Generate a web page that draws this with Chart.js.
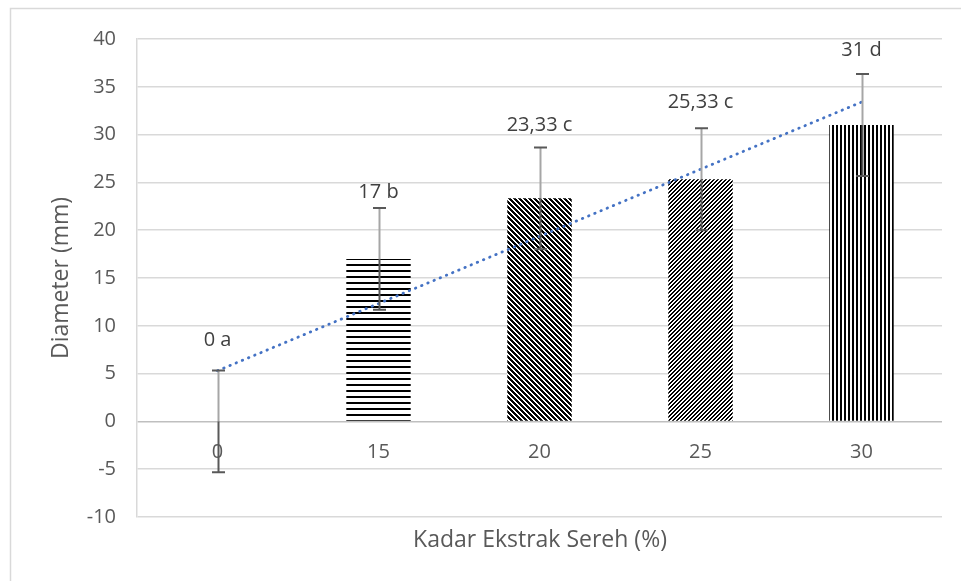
<!DOCTYPE html>
<html>
<head>
<meta charset="utf-8">
<script src="https://cdn.jsdelivr.net/npm/chart.js@4/dist/chart.umd.min.js"></script>
<style>
  html, body { margin: 0; padding: 0; background: #ffffff; }
  #wrap { width: 961px; height: 581px; position: relative; }
</style>
</head>
<body>
<div id="wrap"><canvas id="chart" width="961" height="581"></canvas></div>
<script>
// Kadar ekstrak sereh (%) vs diameter zona hambat (mm)
const categories = ['0', '15', '20', '25', '30'];
const diameters = [0, 17, 23.33, 25.33, 31];
const stdErrors = [5.33, 5.33, 5.33, 5.33, 5.33];
const letters = ['a', 'b', 'c', 'c', 'd'];
// linear trendline, first and last category
const trendEnds = [5.3, 33.4];
const yMin = -10, yMax = 40, yStep = 5;

const FONT = '"Open Sans", "Noto Sans", sans-serif';
const GREY_TXT = '#595959';

const canvas = document.getElementById('chart');
const ctx = canvas.getContext('2d');

// hatch fills for the bars
function tile(w, h, on) {
  const c = document.createElement('canvas');
  c.width = w; c.height = h;
  const t = c.getContext('2d');
  const img = t.createImageData(w, h);
  for (let y = 0; y < h; y++) {
    for (let x = 0; x < w; x++) {
      const k = (y * w + x) * 4;
      const v = on(x, y) ? 0 : 255;
      img.data[k] = v; img.data[k + 1] = v; img.data[k + 2] = v; img.data[k + 3] = 255;
    }
  }
  t.putImageData(img, 0, 0);
  return ctx.createPattern(c, 'repeat');
}
const hatchHorizontal = tile(1, 6, (x, y) => y < 2);
const hatchDown = tile(5, 5, (x, y) => (((x - y) % 5) + 5) % 5 < 2.5);
const hatchUp = tile(4, 4, (x, y) => (x + y) % 4 < 2);
const hatchVertical = tile(4, 1, (x) => x < 2);
const barFills = [hatchHorizontal, hatchHorizontal, hatchDown, hatchUp, hatchVertical];

const trendData = categories.map((_, i) =>
  i === 0 ? trendEnds[0] : (i === categories.length - 1 ? trendEnds[1] : null));

function fmt(v) { return String(v).replace('.', ','); }

const frame = {
  id: 'frame',
  beforeDraw(chart) {
    const c = chart.ctx;
    c.save();
    c.fillStyle = '#ffffff';
    c.fillRect(0, 0, chart.width, chart.height);
    c.strokeStyle = '#d9d9d9';
    c.lineWidth = 1.5;
    c.strokeRect(10.5, 8.5, 1200, 1200);
    c.restore();
  }
};

const errorBars = {
  id: 'errorBars',
  afterDatasetsDraw(chart) {
    const c = chart.ctx;
    const xs = chart.scales.x, ys = chart.scales.y;
    c.save();
    c.lineWidth = 2;
    diameters.forEach((v, i) => {
      const x = Math.round(xs.getPixelForValue(i)) + 0.5;
      const yv = ys.getPixelForValue(v);
      const yTop = ys.getPixelForValue(v + stdErrors[i]);
      const yBot = ys.getPixelForValue(v - stdErrors[i]);
      c.strokeStyle = '#a6a6a6';
      c.beginPath(); c.moveTo(x, yv); c.lineTo(x, yTop); c.stroke();
      c.strokeStyle = '#595959';
      c.beginPath(); c.moveTo(x, yv); c.lineTo(x, yBot); c.stroke();
      c.beginPath();
      c.moveTo(x - 6.5, yTop); c.lineTo(x + 6.5, yTop);
      c.moveTo(x - 6.5, yBot); c.lineTo(x + 6.5, yBot);
      c.stroke();
    });
    c.restore();
  }
};

const texts = {
  id: 'texts',
  afterDraw(chart) {
    const c = chart.ctx;
    const xs = chart.scales.x, ys = chart.scales.y;
    const zero = ys.getPixelForValue(0);
    c.save();
    c.textAlign = 'center';
    c.textBaseline = 'middle';
    // category labels under the zero line
    c.fillStyle = GREY_TXT;
    c.font = '20px ' + FONT;
    categories.forEach((lab, i) => c.fillText(lab, xs.getPixelForValue(i), zero + 31));
    // axis titles
    c.font = '23px ' + FONT;
    c.fillText('Kadar Ekstrak Sereh (%)', 540, 540);
    c.save();
    c.translate(61, 278);
    c.rotate(-Math.PI / 2);
    c.fillText('Diameter (mm)', 0, 0);
    c.restore();
    // value labels with significance letters
    const nudge = [-7, 7, 1, -3, -1];
    c.fillStyle = '#404040';
    c.font = '20px ' + FONT;
    diameters.forEach((v, i) => {
      const y = ys.getPixelForValue(v + stdErrors[i]) - 23 + nudge[i];
      c.fillText(fmt(v) + ' ' + letters[i], xs.getPixelForValue(i), y);
    });
    c.restore();
  }
};

new Chart(ctx, {
  data: {
    labels: categories,
    datasets: [
      {
        type: 'line',
        data: trendData,
        spanGaps: true,
        borderColor: '#4472c4',
        borderWidth: 2.8,
        borderDash: [0.5, 6.2],
        borderCapStyle: 'round',
        pointRadius: 0,
        fill: false,
        order: 0
      },
      {
        type: 'bar',
        data: diameters,
        backgroundColor: barFills,
        borderWidth: 0,
        barPercentage: 0.4,
        categoryPercentage: 1.0,
        order: 1
      }
    ]
  },
  options: {
    responsive: false,
    animation: false,
    layout: { padding: { left: 11, right: 19, top: 39, bottom: 0 } },
    plugins: { legend: { display: false }, tooltip: { enabled: false } },
    scales: {
      x: {
        ticks: { display: false },
        grid: { display: false, drawTicks: false },
        border: { display: false },
        afterFit: (s) => { s.height = 64; }
      },
      y: {
        min: yMin,
        max: yMax,
        ticks: {
          stepSize: yStep,
          color: GREY_TXT,
          font: { family: FONT, size: 20 },
          padding: 21
        },
        grid: {
          color: (g) => (g.tick && g.tick.value === 0 ? '#bfbfbf' : '#d9d9d9'),
          lineWidth: 1.5,
          drawTicks: false
        },
        border: { display: true, color: '#d9d9d9', width: 1.5 },
        afterFit: (s) => { s.width = 126; }
      }
    }
  },
  plugins: [frame, errorBars, texts]
});
</script>
</body>
</html>
